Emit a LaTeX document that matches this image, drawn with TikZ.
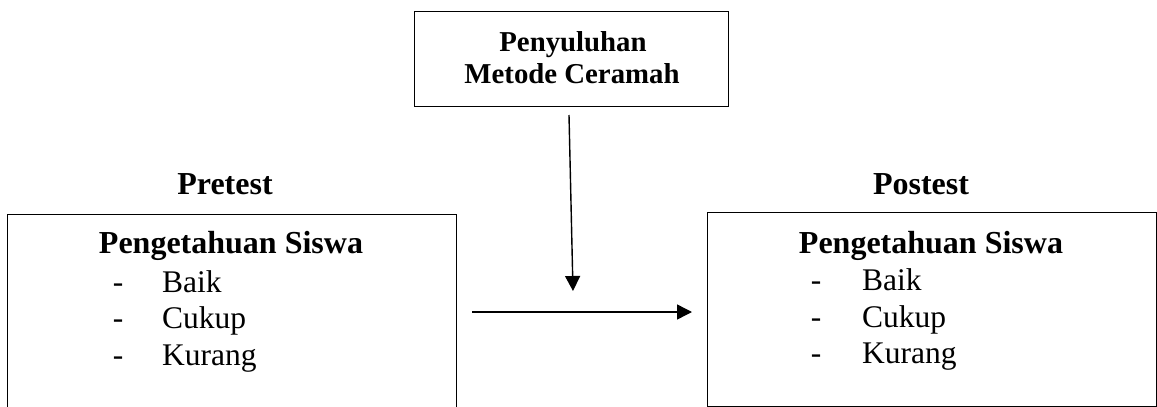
\documentclass[tikz,border=0pt]{standalone}
\usepackage{fontspec}
\setmainfont{Liberation Serif}
\usetikzlibrary{arrows.meta}
\begin{document}
\begin{tikzpicture}[x=1pt,y=-1pt,
  box/.style={draw,line width=1.4pt,rectangle,inner sep=0pt,anchor=north west},
  toptext/.style={font=\fontsize{28.8}{34}\selectfont\bfseries,anchor=base,inner sep=0pt},
  headtext/.style={font=\fontsize{32}{38}\selectfont\bfseries,anchor=base,inner sep=0pt},
  itemtext/.style={font=\fontsize{31.5}{37}\selectfont,anchor=base west,inner sep=0pt},
  dashtext/.style={font=\fontsize{31.5}{37}\selectfont,anchor=base,inner sep=0pt},
  conn/.style={line width=1.4pt,-{Triangle[length=15pt,width=15pt]}}]
\useasboundingbox (0,0) rectangle (1157,407);
% boxes
\node[box,minimum width=314pt,minimum height=95pt] (topbox) at (414,11) {};
\node[box,minimum width=449pt,minimum height=230pt] (leftbox) at (7,214) {};
\node[box,minimum width=449pt,minimum height=194pt] (rightbox) at (707,212) {};
% top text
\node[toptext] (t1) at (573,51) {Penyuluhan};
\node[toptext] (t2) at (572,83) {Metode Ceramah};
% labels
\node[headtext] (pre) at (225,194) {Pretest};
\node[headtext] (post) at (921,194) {Postest};
% left box contents
\node[headtext] (lh) at (231,253) {Pengetahuan Siswa};
\node[dashtext] (ld1) at (118,292) {-};
\node[itemtext] (li1) at (162,292) {Baik};
\node[dashtext] (ld2) at (118,328) {-};
\node[itemtext] (li2) at (162,328) {Cukup};
\node[dashtext] (ld3) at (118,365) {-};
\node[itemtext] (li3) at (162,365) {Kurang};
% right box contents
\node[headtext] (rh) at (931,253) {Pengetahuan Siswa};
\node[dashtext] (rd1) at (816,290) {-};
\node[itemtext] (ri1) at (862,290) {Baik};
\node[dashtext] (rd2) at (816,327) {-};
\node[itemtext] (ri2) at (862,327) {Cukup};
\node[dashtext] (rd3) at (816,363) {-};
\node[itemtext] (ri3) at (862,363) {Kurang};
% connectors
\coordinate (vs) at (569,115);
\coordinate (ve) at (573,291);
\coordinate (hs) at (472,312);
\coordinate (he) at (692,312);
\draw[conn] (vs) -- (ve);
\draw[conn] (hs) -- (he);
\end{tikzpicture}
\end{document}
